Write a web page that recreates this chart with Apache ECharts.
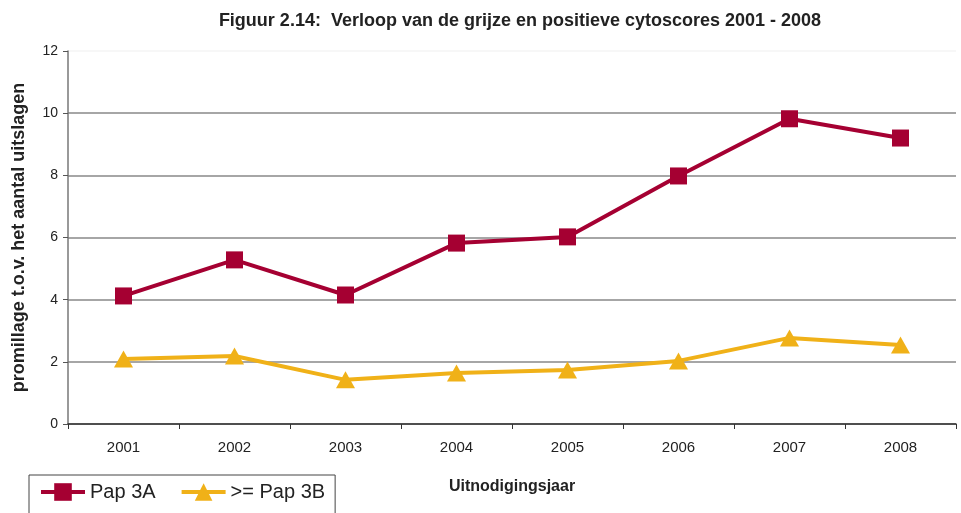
<!DOCTYPE html>
<html>
<head>
<meta charset="utf-8">
<script src="https://cdn.jsdelivr.net/npm/echarts@6/dist/echarts.min.js"></script>
<style>
  html, body { margin: 0; padding: 0; background: #fff; }
  #chart { width: 961px; height: 513px; }
</style>
</head>
<body>
<div id="chart"></div>
<script>
// gegevens
const years = ['2001', '2002', '2003', '2004', '2005', '2006', '2007', '2008']
const pap3A = [4.12, 5.28, 4.15, 5.82, 6.02, 7.98, 9.82, 9.2]
const pap3B = [2.09, 2.19, 1.42, 1.64, 1.74, 2.03, 2.77, 2.54]

const red = '#a50032'
const yellow = '#f0b118'
const font = 'Liberation Sans, Arial, sans-serif'

const chart = echarts.init(document.getElementById('chart'))

chart.setOption({
  animation: false,
  title: {
    text: 'Figuur 2.14:  Verloop van de grijze en positieve cytoscores 2001 - 2008',
    left: 515,
    top: 7,
    textAlign: 'center',
    textStyle: { fontFamily: font, fontSize: 18, fontWeight: 'bold', color: '#222' }
  },
  legend: {
    left: 29,
    top: 475,
    orient: 'horizontal',
    itemWidth: 44,
    itemHeight: 22,
    itemGap: 24,
    padding: [7, 10, 20, 10],
    borderColor: '#444',
    borderWidth: 1,
    lineStyle: { width: 4 },
    textStyle: { fontFamily: font, fontSize: 20, color: '#222' },
    data: ['Pap 3A', '>= Pap 3B']
  },
  grid: {
    left: 68,
    right: 5,
    top: 51,
    bottom: 89,
    containLabel: false
  },
  xAxis: {
    type: 'category',
    data: years,
    boundaryGap: true,
    name: 'Uitnodigingsjaar',
    nameLocation: 'middle',
    nameGap: 55,
    nameTextStyle: { fontFamily: font, fontSize: 16, fontWeight: 'bold', color: '#222' },
    axisLine: { lineStyle: { color: '#333', width: 1.5 } },
    axisTick: { show: true, length: 5, lineStyle: { color: '#333' } },
    axisLabel: { fontFamily: font, fontSize: 15, color: '#222', margin: 16 }
  },
  yAxis: {
    type: 'value',
    min: 0,
    max: 12,
    interval: 2,
    name: 'promillage t.o.v. het aantal uitslagen',
    nameLocation: 'middle',
    nameGap: 40,
    nameTextStyle: { fontFamily: font, fontSize: 18, fontWeight: 'bold', color: '#222' },
    axisLine: { show: true, lineStyle: { color: '#777', width: 1.5 } },
    axisTick: { show: true, length: 5, lineStyle: { color: '#555' } },
    axisLabel: { fontFamily: font, fontSize: 14, color: '#222', margin: 10 },
    splitLine: {
      show: true,
      lineStyle: { color: ['#888', '#888', '#888', '#888', '#888', '#888', '#f4f4f4'], width: 1.5 }
    }
  },
  series: [
    {
      name: 'Pap 3A',
      type: 'line',
      data: pap3A,
      symbol: 'rect',
      symbolSize: 17,
      lineStyle: { color: red, width: 4 },
      itemStyle: { color: red },
      z: 3
    },
    {
      name: '>= Pap 3B',
      type: 'line',
      data: pap3B,
      symbol: 'triangle',
      symbolSize: [19, 17],
      lineStyle: { color: yellow, width: 4 },
      itemStyle: { color: yellow },
      z: 2
    }
  ]
})
</script>
</body>
</html>
